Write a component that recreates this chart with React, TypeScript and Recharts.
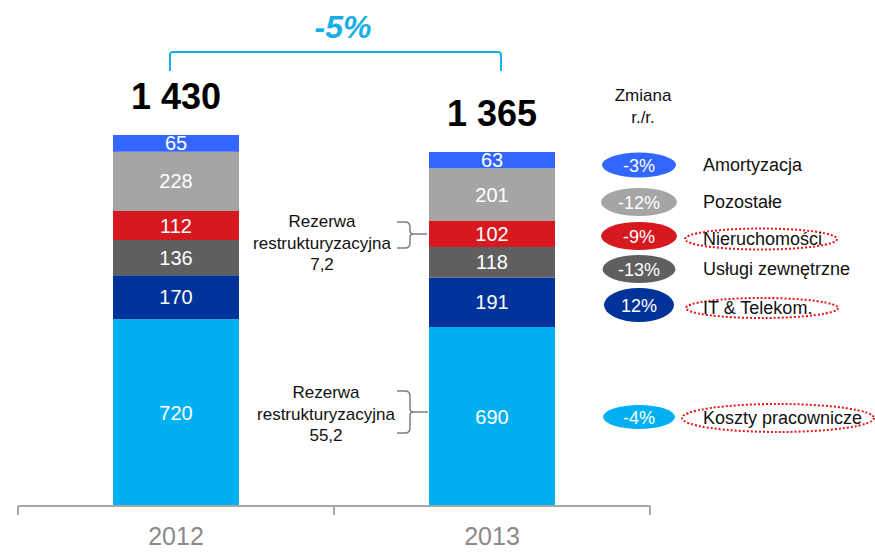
import { Bar, BarChart, LabelList, XAxis, YAxis } from "recharts";

const categories = ["2012", "2013"];
const koszty = [720, 690];
const itTelekom = [170, 191];
const uslugi = [136, 118];
const nieruchomosci = [112, 102];
const pozostale = [228, 201];
const amortyzacja = [65, 63];
const totals = ["1 430", "1 365"];

const legendNames = [
  "Amortyzacja",
  "Pozostałe",
  "Nieruchomości",
  "Usługi zewnętrzne",
  "IT & Telekom.",
  "Koszty pracownicze",
];
const legendChanges = ["-3%", "-12%", "-9%", "-13%", "12%", "-4%"];
const totalChange = "-5%";
const reserveNotes = ["7,2", "55,2"];

const FONT = "'Liberation Sans', Arial, sans-serif";
const W = 875;
const H = 552;
const PLOT_LEFT = 18;
const PLOT_RIGHT = 650;
const PLOT_BOTTOM = 506;
const BAND = (PLOT_RIGHT - PLOT_LEFT) / categories.length;

const colors = {
  koszty: "#00b0f0",
  it: "#003399",
  uslugi: "#5f5f5f",
  nieruch: "#d6181f",
  pozostale: "#a5a5a5",
  amort: "#3366ff",
};
const legendColors = [
  colors.amort,
  colors.pozostale,
  colors.nieruch,
  colors.uslugi,
  colors.it,
  colors.koszty,
];
// ellipse layout per legend row: cy, rx, ry
const legendRows = [
  { cy: 165, rx: 37, ry: 12.5 },
  { cy: 202, rx: 38, ry: 14 },
  { cy: 236, rx: 38, ry: 14 },
  { cy: 269, rx: 36.5, ry: 14 },
  { cy: 305, rx: 35, ry: 17 },
  { cy: 417, rx: 36, ry: 12 },
];
const dotted = [
  null,
  null,
  { cx: 761, cy: 239, rx: 76, ry: 10.5 },
  null,
  { cx: 762, cy: 308, rx: 76, ry: 10 },
  { cx: 778, cy: 418, rx: 96, ry: 14 },
];

const data = categories.map((year, i) => ({
  year,
  koszty: koszty[i],
  it: itTelekom[i],
  uslugi: uslugi[i],
  nieruch: nieruchomosci[i],
  pozostale: pozostale[i],
  amort: amortyzacja[i],
}));

function YearTick(props: any) {
  const { x, payload, index } = props;
  const last = index === categories.length - 1;
  return (
    <g>
      <line x1={x - BAND / 2} x2={x - BAND / 2} y1={PLOT_BOTTOM} y2={PLOT_BOTTOM + 9} stroke="#a6a6a6" strokeWidth={2} />
      {last && (
        <line x1={x + BAND / 2} x2={x + BAND / 2} y1={PLOT_BOTTOM} y2={PLOT_BOTTOM + 9} stroke="#a6a6a6" strokeWidth={2} />
      )}
      <text x={x} y={PLOT_BOTTOM + 39} textAnchor="middle" fontSize={25} fill="#8a8a8a" fontFamily={FONT}>
        {payload.value}
      </text>
    </g>
  );
}

function TotalLabel(props: any) {
  const { x, y, width, index } = props;
  return (
    <text x={x + width / 2} y={y - 26} textAnchor="middle" fontSize={36} fontWeight="bold" fill="#000" fontFamily={FONT}>
      {totals[index]}
    </text>
  );
}

function Note({ x, y, value }: { x: number; y: number; value: string }) {
  return (
    <g fontSize={17} fill="#111" textAnchor="middle" fontFamily={FONT}>
      <text x={x} y={y}>Rezerwa</text>
      <text x={x} y={y + 21.5}>restrukturyzacyjna</text>
      <text x={x} y={y + 43}>{value}</text>
    </g>
  );
}

function seg(key: keyof typeof colors) {
  return (
    <Bar key={key} dataKey={key} stackId="a" fill={colors[key]} isAnimationActive={false}>
      <LabelList dataKey={key} position="center" fill="#fff" fontSize={20} fontFamily={FONT} />
      {key === "amort" && <LabelList dataKey={key} content={TotalLabel} />}
    </Bar>
  );
}

export default function App() {
  return (
    <div style={{ position: "absolute", left: 0, top: 0, width: W, height: H, background: "#fff", fontFamily: FONT }}>
      <BarChart
        width={W}
        height={H}
        data={data}
        margin={{ top: 117, right: W - PLOT_RIGHT, bottom: 6, left: PLOT_LEFT }}
        barSize={126}
      >
        <XAxis
          dataKey="year"
          axisLine={{ stroke: "#a6a6a6", strokeWidth: 2 }}
          tickLine={false}
          height={40}
          interval={0}
          tick={(p: any) => <YearTick {...p} />}
        />
        <YAxis hide domain={[0, 1500]} />
        {seg("koszty")}
        {seg("it")}
        {seg("uslugi")}
        {seg("nieruch")}
        {seg("pozostale")}
        {seg("amort")}
      </BarChart>
      <svg width={W} height={H} style={{ position: "absolute", left: 0, top: 0, pointerEvents: "none" }}>
        {/* total change bracket */}
        <text x={343} y={38} textAnchor="middle" fontSize={32} fontWeight="bold" fontStyle="italic" fill="#1aaee5" fontFamily={FONT}>
          {totalChange}
        </text>
        <path d="M170,71 L170,55 Q170,52 173,52 L498,52 Q501,52 501,55 L501,71" fill="none" stroke="#1aaee5" strokeWidth={2} />

        {/* reserve notes */}
        <Note x={322} y={227} value={reserveNotes[0]} />
        <path
          d="M397,222 L405,222 Q410,222 410,227 L410,231 Q410,234 414,234 L427,234 M414,234 Q410,234 410,237 L410,243 Q410,248 405,248 L397,248"
          fill="none"
          stroke="#808080"
          strokeWidth={1.5}
        />
        <Note x={326} y={398} value={reserveNotes[1]} />
        <path
          d="M397,391 L405,391 Q410,391 410,396 L410,409 Q410,412 414,412 L428,412 M414,412 Q410,412 410,415 L410,428 Q410,433 405,433 L397,433"
          fill="none"
          stroke="#808080"
          strokeWidth={1.5}
        />

        {/* legend */}
        <g fontSize={17} fill="#111" textAnchor="middle" fontFamily={FONT}>
          <text x={643} y={101}>Zmiana</text>
          <text x={643} y={123}>r./r.</text>
        </g>
        {legendNames.map((name, i) => {
          const r = legendRows[i];
          const d = dotted[i];
          return (
            <g key={name} fontFamily={FONT}>
              <ellipse cx={639} cy={r.cy} rx={r.rx} ry={r.ry} fill={legendColors[i]} />
              <text x={639} y={r.cy + 6.5} textAnchor="middle" fontSize={18} fill="#fff">
                {legendChanges[i]}
              </text>
              {d && (
                <ellipse cx={d.cx} cy={d.cy} rx={d.rx} ry={d.ry} fill="none" stroke="#e8141b" strokeWidth={2} strokeDasharray="2 2" />
              )}
              <text x={703} y={(d ? d.cy : r.cy) + 6} fontSize={18} fill="#111">
                {name}
              </text>
            </g>
          );
        })}
      </svg>
    </div>
  );
}
